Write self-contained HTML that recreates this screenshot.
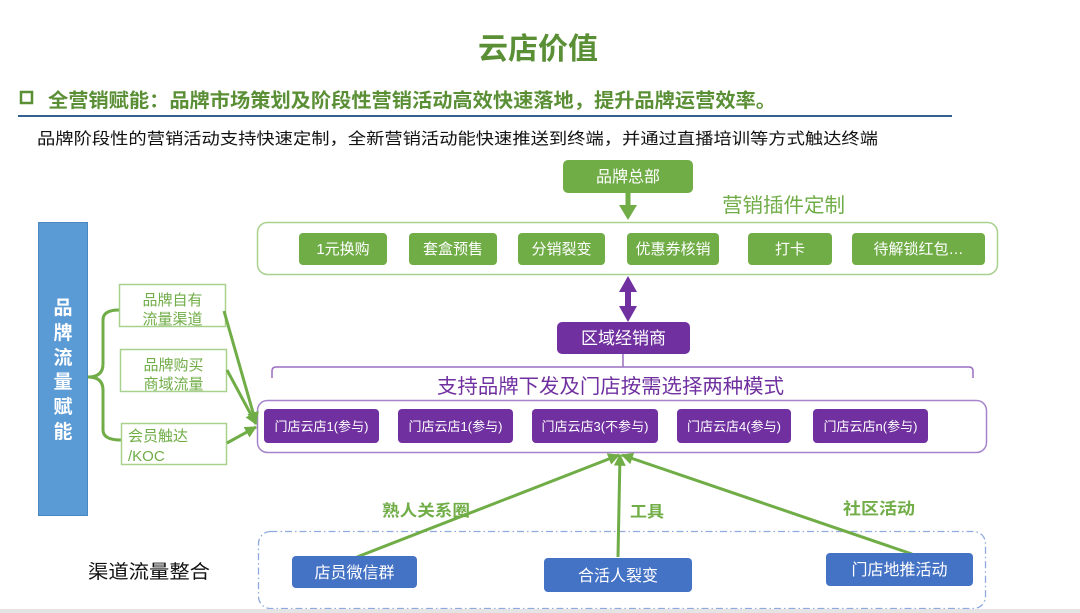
<!DOCTYPE html>
<html><head><meta charset="utf-8"><style>
html,body{margin:0;padding:0;background:#fff;}
svg{display:block;}
text{font-family:"Liberation Sans","Noto Sans CJK SC",sans-serif;}
</style></head><body>
<svg width="1080" height="613" viewBox="0 0 1080 613" xmlns="http://www.w3.org/2000/svg">
<defs>
<marker id="ga" viewBox="0 0 10 10" refX="9" refY="5" markerWidth="4" markerHeight="4" orient="auto" markerUnits="strokeWidth">
<path d="M0,0 L10,5 L0,10 z" fill="#70ad47"/>
</marker>
</defs>
<rect x="0" y="0" width="1080" height="613" fill="#fff"/>
<!-- title -->
<text x="538" y="59" font-size="30" font-weight="bold" fill="#5a8f35" text-anchor="middle">云店价值</text>
<rect x="21" y="92" width="11" height="11" fill="none" stroke="#5a8f35" stroke-width="2.5"/>
<text x="48" y="107" font-size="19.5" font-weight="bold" fill="#5a8f35" textLength="728" lengthAdjust="spacingAndGlyphs">全营销赋能：品牌市场策划及阶段性营销活动高效快速落地，提升品牌运营效率。</text>
<rect x="18" y="115" width="934" height="2" fill="#34608f"/>
<text x="37" y="144" font-size="16" fill="#111" textLength="841" lengthAdjust="spacingAndGlyphs">品牌阶段性的营销活动支持快速定制，全新营销活动能快速推送到终端，并通过直播培训等方式触达终端</text>

<!-- brand HQ -->
<rect x="563" y="160" width="130" height="33" rx="5" fill="#70ad47"/>
<text x="628" y="182" font-size="16" fill="#fff" text-anchor="middle">品牌总部</text>
<rect x="625.5" y="193" width="5" height="14" fill="#70ad47"/>
<path d="M619,205 L637,205 L628,220 z" fill="#70ad47"/>
<text x="722" y="212" font-size="20" fill="#70ad47" textLength="123" lengthAdjust="spacingAndGlyphs">营销插件定制</text>

<!-- plugins -->
<rect x="257.5" y="222.5" width="740" height="52" rx="10" fill="none" stroke="#a9d18e" stroke-width="1.5"/>
<g fill="#70ad47">
<rect x="299" y="233" width="88" height="32" rx="4"/>
<rect x="409" y="233" width="88" height="32" rx="4"/>
<rect x="518" y="233" width="87" height="32" rx="4"/>
<rect x="627" y="233" width="92" height="32" rx="4"/>
<rect x="748" y="233" width="84" height="32" rx="4"/>
<rect x="852" y="233" width="133" height="32" rx="4"/>
</g>
<g font-size="15" fill="#fff" text-anchor="middle">
<text x="343" y="254">1元换购</text>
<text x="453" y="254">套盒预售</text>
<text x="561.5" y="254">分销裂变</text>
<text x="673" y="254">优惠券核销</text>
<text x="790" y="254">打卡</text>
<text x="918.5" y="254">待解锁红包…</text>
</g>

<!-- purple double arrow -->
<rect x="625" y="290" width="6" height="18" fill="#7030a0"/>
<path d="M619,292 L637,292 L628,276 z" fill="#7030a0"/>
<path d="M619,306 L637,306 L628,322 z" fill="#7030a0"/>

<rect x="557" y="322" width="133" height="32" rx="5" fill="#7030a0"/>
<text x="623.5" y="344" font-size="17" fill="#fff" text-anchor="middle">区域经销商</text>
<line x1="623" y1="354" x2="623" y2="367" stroke="#9b6fc3" stroke-width="1.5"/>
<path d="M272,378 L272,371 Q272,367 276,367 L969,367 Q973,367 973,371 L973,378" fill="none" stroke="#9b6fc3" stroke-width="1.5"/>
<text x="437" y="393" font-size="20" fill="#7030a0" textLength="347" lengthAdjust="spacingAndGlyphs">支持品牌下发及门店按需选择两种模式</text>

<!-- stores -->
<rect x="257.5" y="400.5" width="729" height="52" rx="10" fill="none" stroke="#a684cc" stroke-width="1.5"/>
<g fill="#7030a0">
<rect x="264" y="409" width="115" height="34" rx="4"/>
<rect x="398" y="409" width="115" height="34" rx="4"/>
<rect x="532" y="409" width="126" height="34" rx="4"/>
<rect x="677" y="409" width="114" height="34" rx="4"/>
<rect x="813" y="409" width="115" height="34" rx="4"/>
</g>
<g font-size="13" fill="#fff" text-anchor="middle">
<text x="321.5" y="431">门店云店1(参与)</text>
<text x="455.5" y="431">门店云店1(参与)</text>
<text x="595" y="431">门店云店3(不参与)</text>
<text x="734" y="431">门店云店4(参与)</text>
<text x="870.5" y="431">门店云店n(参与)</text>
</g>

<!-- left blue -->
<rect x="38.5" y="222.5" width="49" height="293" fill="#5b9bd5" stroke="#4a86c0" stroke-width="1"/>
<g font-size="19" font-weight="bold" fill="#fff" text-anchor="middle">
<text x="63" y="314">品</text>
<text x="63" y="339">牌</text>
<text x="63" y="364">流</text>
<text x="63" y="388">量</text>
<text x="63" y="413">赋</text>
<text x="63" y="438">能</text>
</g>
<!-- brace -->
<path d="M88,377 Q103,377 103,364 L103,320 Q103,310 119,310" fill="none" stroke="#70ad47" stroke-width="3"/>
<path d="M88,377 Q103,377 103,390 L103,430 Q103,440 121,440" fill="none" stroke="#70ad47" stroke-width="3"/>

<g fill="#fff" stroke="#a9d18e" stroke-width="1.5">
<rect x="119.5" y="284.5" width="106" height="42"/>
<rect x="120.5" y="349.5" width="106" height="42"/>
<rect x="121.5" y="423.5" width="105" height="41"/>
</g>
<g font-size="15" fill="#70ad47">
<text x="172.5" y="305" text-anchor="middle">品牌自有</text>
<text x="172.5" y="324" text-anchor="middle">流量渠道</text>
<text x="173.5" y="370" text-anchor="middle">品牌购买</text>
<text x="173.5" y="389" text-anchor="middle">商域流量</text>
<text x="128" y="441">会员触达</text>
<text x="128" y="461">/KOC</text>
</g>

<!-- green arrows to stores -->
<g stroke="#70ad47" stroke-width="3" fill="none" marker-end="url(#ga)">
<line x1="224" y1="311" x2="256" y2="423"/>
<line x1="227" y1="370" x2="256" y2="424"/>
<line x1="227" y1="443" x2="256" y2="427"/>
</g>

<!-- bottom -->
<rect x="258.5" y="531.5" width="727" height="77" rx="12" fill="none" stroke="#8faadc" stroke-width="1.3" stroke-dasharray="7 3 1.5 3"/>
<g stroke="#70ad47" stroke-width="3" fill="none" marker-end="url(#ga)">
<line x1="357" y1="557" x2="619" y2="455"/>
<line x1="618" y1="557" x2="620" y2="455"/>
<line x1="912" y1="554" x2="622" y2="455"/>
</g>
<g font-size="16" font-weight="bold" fill="#70ad47">
<text x="382" y="516" textLength="88" lengthAdjust="spacingAndGlyphs">熟人关系圈</text>
<text x="630" y="517" textLength="34" lengthAdjust="spacingAndGlyphs">工具</text>
<text x="843" y="514" textLength="72" lengthAdjust="spacingAndGlyphs">社区活动</text>
</g>
<g fill="#4472c4">
<rect x="292" y="556" width="125" height="32" rx="4"/>
<rect x="544" y="558" width="148" height="34" rx="4"/>
<rect x="826" y="553" width="147" height="33" rx="4"/>
</g>
<g font-size="16" fill="#fff" text-anchor="middle">
<text x="354.5" y="578">店员微信群</text>
<text x="618" y="581">合活人裂变</text>
<text x="899.5" y="575">门店地推活动</text>
</g>
<text x="88" y="578" font-size="19" fill="#111" textLength="122" lengthAdjust="spacingAndGlyphs">渠道流量整合</text>

<rect x="0" y="609" width="1080" height="4" fill="#e4e4e4"/>
</svg>
</body></html>
